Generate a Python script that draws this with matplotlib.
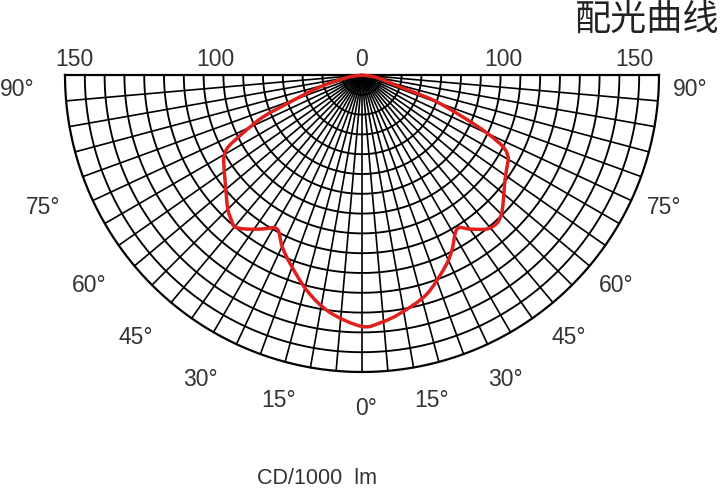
import numpy as np
import matplotlib.pyplot as plt
from matplotlib.path import Path
from matplotlib.patches import PathPatch

# light distribution (angle from nadir in degrees, cd per 1000 lm)
angles = [-90, -80, -74.1, -69.4, -67.0, -64.0, -61.7, -59.3, -56.0, -52.5, -48.5, -44.8, -42.0,
          -39.9, -36.7, -32.8, -28.9, -25.0, -21.0, -14.3, -7.7, 0, 4.5, 9.0, 16.3, 23.4, 27.2, 31.7,
          35.0, 39.1, 42.4, 45.0, 47.8, 53.7, 58.0, 60.7, 63.0, 65.1, 67.4, 70.6, 72.5, 80, 90]
intensity = [0, 8, 22.1, 38.8, 54.3, 66.9, 76.8, 81.1, 84.0, 87.2, 91.5, 96.1, 98.6,
             100.0, 97.1, 92.5, 88.8, 95.5, 101.7, 112.4, 121.0, 127.0, 125.3, 122.0, 115.6, 105.6, 99.4, 91.4,
             95.0, 100.2, 101.2, 99.5, 96.2, 89.6, 86.5, 84.6, 80.0, 69.6, 55.2, 38.0, 20.1, 8, 0]

scale_labels = ["150", "100", "0", "100", "150"]
angle_labels = ["90°", "75°", "60°", "45°", "30°", "15°", "0°",
                "15°", "30°", "45°", "60°", "75°", "90°"]
rings = np.arange(10, 151, 10)
spokes = np.arange(-90, 91, 5)

# label placement in pixels (as in the original drawing)
scale_pos = [(74, 59), (215, 59), (362, 59), (503, 59), (634, 59)]
angle_pos = [(17, 89), (43, 207), (89, 285), (136, 337), (200, 380), (279, 400), (366, 408),
             (432, 400), (505, 380), (569, 337), (616, 285), (664, 207), (690, 89)]

W, H = 720, 490
cx, cy = 362, 75          # pole of the diagram in pixels
px = 297 / 150            # pixels per cd

fig = plt.figure(figsize=(7.2, 4.9), dpi=100)
ax = fig.add_axes([0, 0, 1, 1])
ax.set_xlim(-cx / px, (W - cx) / px)
ax.set_ylim(-(H - cy) / px, cy / px)
ax.set_aspect("equal")
ax.axis("off")

rmax = rings[-1]
t = np.deg2rad(np.linspace(-90, 90, 361))
for r in rings:
    ax.plot(r * np.sin(t), -r * np.cos(t), color="black", lw=1.35 if r < rmax else 1.6)
for a in np.deg2rad(spokes):
    ax.plot([0, rmax * np.sin(a)], [0, -rmax * np.cos(a)], color="black", lw=1.2)
ax.plot([-rmax, rmax], [0, 0], color="black", lw=1.6)

# curve through the read points, drawn as a smooth bezier path
th = np.deg2rad(angles)
r = np.array(intensity)
pts = np.column_stack([r * np.sin(th), -r * np.cos(th)])
verts = [pts[0]]
codes = [Path.MOVETO]
for i in range(len(pts) - 1):
    p0 = pts[max(i - 1, 0)]
    p1, p2 = pts[i], pts[i + 1]
    p3 = pts[min(i + 2, len(pts) - 1)]
    verts += [p1 + (p2 - p0) / 6, p2 - (p3 - p1) / 6, p2]
    codes += [Path.CURVE4] * 3
ax.add_patch(PathPatch(Path(verts, codes), facecolor="none", edgecolor="#e0201c",
                       lw=2.5, joinstyle="round", zorder=5))

font = dict(family="Liberation Sans", color="#333333")
for txt, (x, y) in zip(scale_labels, scale_pos):
    fig.text(x / W, 1 - y / H, txt, ha="center", va="center", fontsize=16.5, **font)
for txt, (x, y) in zip(angle_labels, angle_pos):
    fig.text(x / W, 1 - y / H, txt, ha="center", va="center", fontsize=16.5, **font)

fig.text(317 / W, 1 - 478 / H, "CD/1000  lm", ha="center", va="center", fontsize=15.5, **font)
fig.text(647 / W, 1 - 20 / H, "配光曲线", ha="center", va="center", fontsize=26,
         family=["Noto Sans CJK SC", "DejaVu Sans"], color="#222222")

fig.savefig("out.png", dpi=100)
